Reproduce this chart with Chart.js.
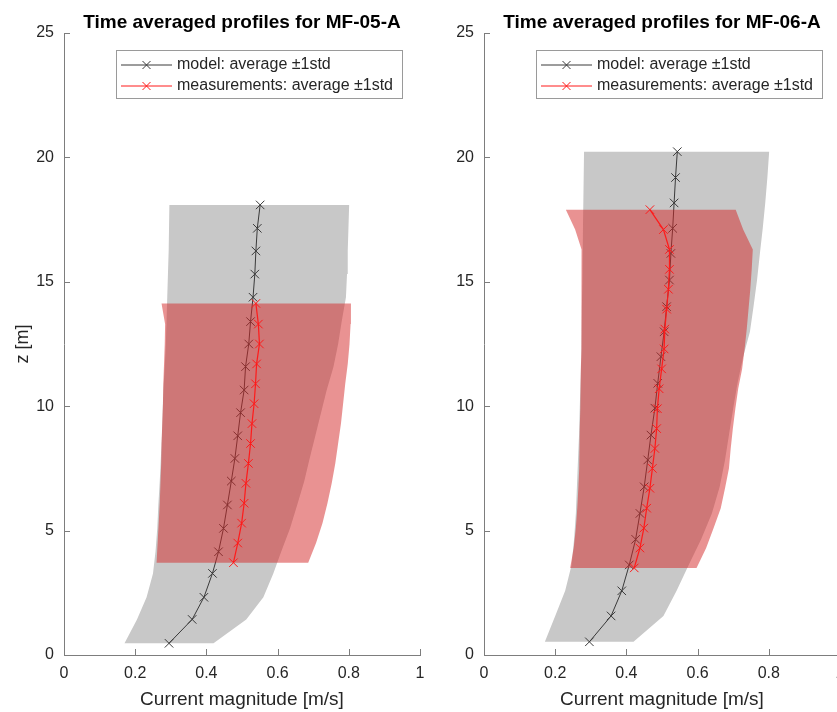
<!DOCTYPE html>
<html>
<head>
<meta charset="utf-8">
<script src="https://cdn.jsdelivr.net/npm/chart.js@4.4.1/dist/chart.umd.min.js"></script>
<style>
  html, body { margin: 0; padding: 0; background: #fff; overflow: hidden; }
  body { width: 837px; height: 712px; position: relative; }
  .panel { position: absolute; top: 0; width: 430px; height: 712px; }
  #p05 { left: 0; }
  #p06 { left: 420px; }
</style>
</head>
<body>
<div class="panel" id="p05"><canvas id="chart05" width="430" height="712"></canvas></div>
<div class="panel" id="p06"><canvas id="chart06" width="430" height="712"></canvas></div>
<script>
// axis ticks
const xTicks = [0, 0.2, 0.4, 0.6, 0.8, 1];
const zTicks = [0, 5, 10, 15, 20, 25];
const legendLabels = ['model: average \u00b11std', 'measurements: average \u00b11std'];

// MF-05-A : model
const modelZ05  = [18.09, 17.15, 16.24, 15.31, 14.38, 13.40, 12.50, 11.59, 10.65, 9.74, 8.81, 7.90, 6.99, 6.03, 5.09, 4.15, 3.28, 2.32, 1.43, 0.47];
const modelU05  = [0.551, 0.543, 0.539, 0.536, 0.531, 0.524, 0.519, 0.510, 0.506, 0.496, 0.488, 0.480, 0.470, 0.459, 0.448, 0.434, 0.417, 0.393, 0.360, 0.295];
const modelLo05 = [0.296, 0.295, 0.294, 0.292, 0.290, 0.288, 0.286, 0.283, 0.279, 0.277, 0.275, 0.272, 0.269, 0.265, 0.262, 0.257, 0.250, 0.232, 0.205, 0.170];
const modelHi05 = [0.801, 0.799, 0.797, 0.795, 0.792, 0.780, 0.770, 0.757, 0.738, 0.722, 0.706, 0.690, 0.675, 0.655, 0.635, 0.610, 0.588, 0.560, 0.512, 0.420];
// MF-05-A : measurements
const measZ05  = [14.13, 13.30, 12.50, 11.70, 10.90, 10.10, 9.30, 8.50, 7.70, 6.90, 6.10, 5.30, 4.50, 3.71];
const measU05  = [0.539, 0.546, 0.549, 0.541, 0.538, 0.534, 0.528, 0.524, 0.518, 0.511, 0.506, 0.499, 0.488, 0.476];
const measLo05 = [0.274, 0.284, 0.283, 0.281, 0.279, 0.278, 0.276, 0.274, 0.273, 0.271, 0.269, 0.266, 0.263, 0.260];
const measHi05 = [0.806, 0.805, 0.802, 0.797, 0.790, 0.784, 0.778, 0.770, 0.762, 0.752, 0.740, 0.726, 0.708, 0.686];

// MF-06-A : model
const modelZ06  = [20.23, 19.19, 18.17, 17.15, 16.14, 15.07, 14.00, 12.99, 11.99, 10.92, 9.92, 8.84, 7.84, 6.76, 5.69, 4.65, 3.62, 2.58, 1.57, 0.53];
const modelU06  = [0.543, 0.538, 0.534, 0.530, 0.525, 0.521, 0.513, 0.506, 0.497, 0.488, 0.480, 0.469, 0.460, 0.450, 0.438, 0.426, 0.408, 0.387, 0.357, 0.296];
const modelLo06 = [0.281, 0.280, 0.279, 0.278, 0.277, 0.276, 0.275, 0.274, 0.273, 0.271, 0.269, 0.267, 0.264, 0.261, 0.258, 0.253, 0.246, 0.228, 0.200, 0.171];
const modelHi06 = [0.801, 0.796, 0.790, 0.783, 0.775, 0.767, 0.757, 0.747, 0.728, 0.712, 0.700, 0.688, 0.677, 0.662, 0.640, 0.610, 0.575, 0.541, 0.504, 0.420];
// MF-06-A : measurements
const measZ06  = [17.90, 17.10, 16.30, 15.50, 14.70, 13.90, 13.10, 12.30, 11.50, 10.70, 9.90, 9.10, 8.30, 7.50, 6.70, 5.90, 5.10, 4.30, 3.50];
const measU06  = [0.466, 0.504, 0.521, 0.521, 0.518, 0.513, 0.508, 0.506, 0.499, 0.492, 0.487, 0.485, 0.480, 0.473, 0.466, 0.457, 0.449, 0.438, 0.422];
const measLo06 = [0.230, 0.256, 0.274, 0.274, 0.274, 0.274, 0.273, 0.273, 0.272, 0.271, 0.270, 0.269, 0.268, 0.267, 0.265, 0.262, 0.258, 0.252, 0.242];
const measHi06 = [0.707, 0.728, 0.755, 0.752, 0.748, 0.743, 0.738, 0.732, 0.725, 0.714, 0.706, 0.699, 0.693, 0.688, 0.677, 0.665, 0.645, 0.624, 0.597];

const MODEL_COLOR = '#3a3a3a';
const MEAS_COLOR = '#ff1a1a';
const FONT = '"Liberation Sans", Arial, Helvetica, sans-serif';
Chart.defaults.font.family = FONT;
Chart.defaults.color = '#262626';

function linePoints(z, u) {
    return z.map((v, i) => ({ x: u[i], y: v }));
}

// closed polygon: down the lower edge, back up the upper edge
function bandPoints(z, lo, hi) {
    const pts = z.map((v, i) => ({ x: lo[i], y: v }));
    for (let i = z.length - 1; i >= 0; i--) pts.push({ x: hi[i], y: z[i] });
    pts.push({ x: lo[0], y: z[0] });
    return pts;
}

// title, inward ticks and the legend box, matlab style
const profilePanel = {
    id: 'profilePanel',
    afterDraw(chart, args, opts) {
        const { ctx, chartArea: a, scales: { x, y } } = chart;
        ctx.save();

        ctx.strokeStyle = '#7d7d7d';
        ctx.lineWidth = 1;
        ctx.beginPath();
        x.ticks.forEach(t => {
            const px = Math.round(x.getPixelForValue(t.value)) + 0.5;
            ctx.moveTo(px, a.bottom);
            ctx.lineTo(px, a.bottom - 6);
        });
        y.ticks.forEach(t => {
            const py = Math.round(y.getPixelForValue(t.value)) + 0.5;
            ctx.moveTo(a.left, py);
            ctx.lineTo(a.left + 6, py);
        });
        ctx.stroke();

        ctx.fillStyle = '#000';
        ctx.font = 'bold 19px ' + FONT;
        ctx.textAlign = 'center';
        ctx.textBaseline = 'alphabetic';
        ctx.fillText(opts.title, (a.left + a.right) / 2, 28);

        const bw = 286, bh = 48;
        const bx = Math.round(a.right - 18 - bw), by = Math.round(a.top + 17);
        ctx.fillStyle = '#fff';
        ctx.fillRect(bx, by, bw, bh);
        ctx.strokeStyle = '#9a9a9a';
        ctx.strokeRect(bx + 0.5, by + 0.5, bw, bh);

        const colors = [MODEL_COLOR, MEAS_COLOR];
        ctx.font = '16px ' + FONT;
        ctx.textAlign = 'left';
        ctx.textBaseline = 'middle';
        legendLabels.forEach((txt, i) => {
            const ry = by + 15 + i * 21;
            ctx.strokeStyle = colors[i];
            ctx.lineWidth = 1;
            ctx.beginPath();
            ctx.moveTo(bx + 5, ry);
            ctx.lineTo(bx + 56, ry);
            const cx = bx + 30.5;
            ctx.moveTo(cx - 4, ry - 4); ctx.lineTo(cx + 4, ry + 4);
            ctx.moveTo(cx - 4, ry + 4); ctx.lineTo(cx + 4, ry - 4);
            ctx.stroke();
            ctx.fillStyle = '#262626';
            ctx.fillText(txt, bx + 61, ry);
        });
        ctx.restore();
    }
};

function makePanel(canvasId, title, showZTitle, mZ, mU, mLo, mHi, sZ, sU, sLo, sHi) {
    const ctx = document.getElementById(canvasId).getContext('2d');
    return new Chart(ctx, {
        type: 'scatter',
        data: {
            datasets: [
                {
                    label: legendLabels[1],
                    data: linePoints(sZ, sU),
                    showLine: true,
                    borderColor: MEAS_COLOR,
                    borderWidth: 1.2,
                    pointStyle: 'crossRot',
                    pointRadius: 6,
                    pointBorderColor: MEAS_COLOR,
                    pointBorderWidth: 1,
                    order: 0
                },
                {
                    data: bandPoints(sZ, sLo, sHi),
                    showLine: true,
                    fill: 'shape',
                    backgroundColor: 'rgba(212, 38, 38, 0.5)',
                    borderColor: 'rgba(0,0,0,0)',
                    borderWidth: 0,
                    pointRadius: 0,
                    order: 1
                },
                {
                    label: legendLabels[0],
                    data: linePoints(mZ, mU),
                    showLine: true,
                    borderColor: MODEL_COLOR,
                    borderWidth: 1,
                    pointStyle: 'crossRot',
                    pointRadius: 6,
                    pointBorderColor: MODEL_COLOR,
                    pointBorderWidth: 1,
                    order: 2
                },
                {
                    data: bandPoints(mZ, mLo, mHi),
                    showLine: true,
                    fill: 'shape',
                    backgroundColor: '#c8c8c8',
                    borderColor: 'rgba(0,0,0,0)',
                    borderWidth: 0,
                    pointRadius: 0,
                    order: 3
                }
            ]
        },
        options: {
            responsive: false,
            animation: false,
            events: [],
            layout: { padding: { top: 33, right: 10, left: 0, bottom: 0 } },
            scales: {
                x: {
                    type: 'linear',
                    min: 0,
                    max: 1,
                    afterBuildTicks: s => { s.ticks = xTicks.map(v => ({ value: v })); },
                    afterFit: s => { s.height = 57; s.paddingLeft = 0; s.paddingRight = 0; },
                    grid: { drawOnChartArea: false, drawTicks: false },
                    border: { display: true, color: '#7d7d7d', width: 1 },
                    ticks: {
                        padding: 9,
                        font: { size: 16 },
                        color: '#262626',
                        maxRotation: 0,
                        callback: v => String(v)
                    },
                    title: {
                        display: true,
                        text: 'Current magnitude [m/s]',
                        font: { size: 19 },
                        color: '#262626',
                        padding: { top: 0, bottom: 1 }
                    }
                },
                y: {
                    type: 'linear',
                    min: 0,
                    max: 25,
                    afterBuildTicks: s => { s.ticks = zTicks.map(v => ({ value: v })); },
                    afterFit: s => { s.width = 64; s.paddingTop = 0; s.paddingBottom = 0; },
                    grid: { drawOnChartArea: false, drawTicks: false },
                    border: { display: true, color: '#7d7d7d', width: 1 },
                    ticks: { padding: 10, font: { size: 16 }, color: '#262626' },
                    title: {
                        display: showZTitle,
                        text: 'z [m]',
                        font: { size: 18 },
                        color: '#262626',
                        padding: { top: 12, bottom: 0 }
                    }
                }
            },
            plugins: {
                legend: { display: false },
                tooltip: { enabled: false },
                profilePanel: { title: title }
            }
        },
        plugins: [profilePanel]
    });
}

makePanel('chart05', 'Time averaged profiles for MF-05-A', true,
    modelZ05, modelU05, modelLo05, modelHi05, measZ05, measU05, measLo05, measHi05);
makePanel('chart06', 'Time averaged profiles for MF-06-A', false,
    modelZ06, modelU06, modelLo06, modelHi06, measZ06, measU06, measLo06, measHi06);
</script>
</body>
</html>
